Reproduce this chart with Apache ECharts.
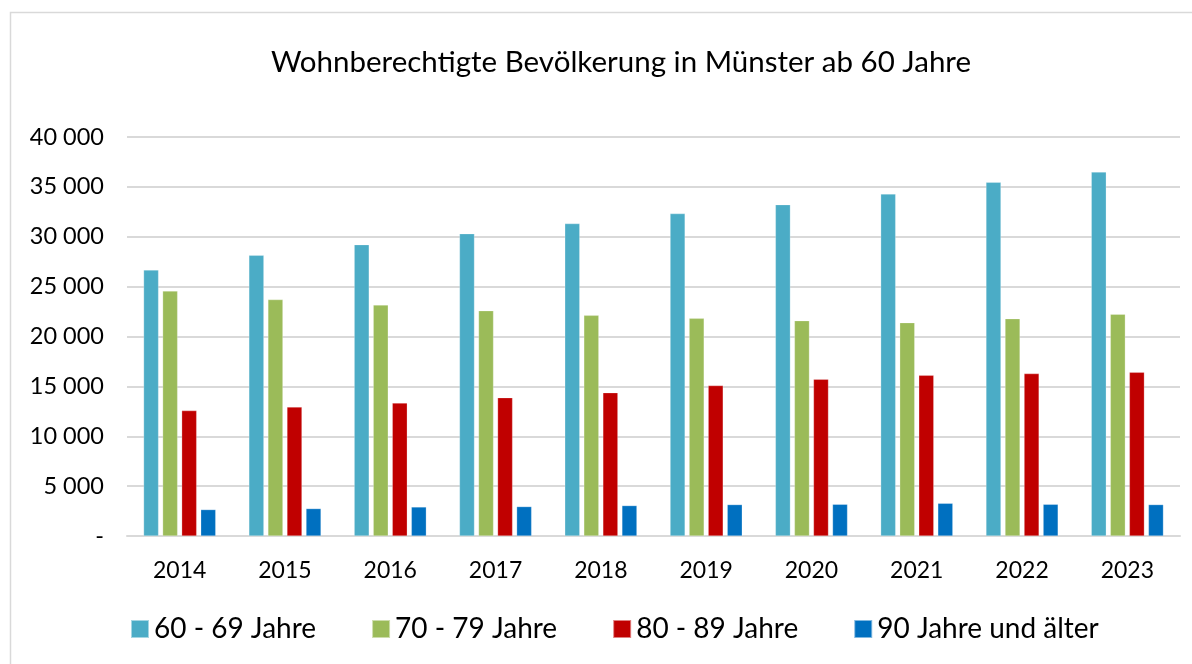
<!DOCTYPE html>
<html>
<head>
	<meta charset="utf-8" />
	<title>Wohnberechtigte Bevölkerung in Münster ab 60 Jahre</title>
	<script src="https://cdn.jsdelivr.net/npm/echarts@6/dist/echarts.min.js"></script>
	<style>
		html, body { margin: 0; padding: 0; background: #fff; }
	</style>
</head>
<body>
	<!-- chart container -->
	<div id="main" style="width: 1192px;height: 664px;"></div>
	<script type="text/javascript">

		// data
		var years = ['2014', '2015', '2016', '2017', '2018', '2019', '2020', '2021', '2022', '2023'];
		var seriesNames = ['60 - 69 Jahre', '70 - 79 Jahre', '80 - 89 Jahre', '90 Jahre und älter'];
		var age60 = [26670, 28140, 29210, 30310, 31320, 32320, 33220, 34290, 35460, 36490];
		var age70 = [24560, 23700, 23160, 22590, 22120, 21820, 21590, 21390, 21790, 22230];
		var age80 = [12570, 12930, 13330, 13870, 14370, 15080, 15710, 16110, 16280, 16410];
		var age90 = [2650, 2750, 2910, 2950, 3050, 3150, 3180, 3280, 3180, 3150];
		var colors = ['#4bacc6', '#9bbb59', '#c00000', '#0070c0'];

		var font = 'Lato, "Open Sans", sans-serif';

		var myChart = echarts.init(document.getElementById('main'));

		function barSeries(i, data) {
			return {
				name: seriesNames[i],
				type: 'bar',
				data: data,
				barWidth: 15,
				barGap: '27%',
				itemStyle: { color: colors[i], borderColor: 'rgba(255,255,255,0.5)', borderWidth: 0.5 }
			};
		}

		var option = {
			animation: false,
			backgroundColor: '#fff',
			color: colors,
			graphic: [{
				type: 'rect',
				shape: { x: 10.5, y: 12.5, width: 1200, height: 700 },
				style: { fill: 'none', stroke: '#d9d9d9', lineWidth: 1.5 },
				silent: true
			}],
			title: {
				text: 'Wohnberechtigte Bevölkerung in Münster ab 60 Jahre',
				left: 616,
				textAlign: 'center',
				top: 42,
				textStyle: { fontFamily: font, fontSize: 29.5, fontWeight: 'normal', color: '#000' }
			},
			legend: {
				data: seriesNames,
				bottom: 16,
				left: 125,
				itemWidth: 18,
				itemHeight: 18,
				itemGap: 55,
				icon: 'rect',
				textStyle: { fontFamily: font, fontSize: 28, color: '#000' }
			},
			grid: {
				left: 127,
				right: 12,
				top: 137,
				bottom: 128,
				containLabel: false
			},
			xAxis: {
				type: 'category',
				data: years,
				axisLine: { lineStyle: { color: '#d9d9d9', width: 2 } },
				axisTick: { show: false },
				axisLabel: { fontFamily: font, fontSize: 23, color: '#000', margin: 23 }
			},
			yAxis: {
				type: 'value',
				min: 0,
				max: 40000,
				interval: 5000,
				axisLine: { show: false },
				axisTick: { show: false },
				splitLine: { lineStyle: { color: '#d9d9d9', width: 2 } },
				axisLabel: {
					fontFamily: font,
					fontSize: 23.5,
					color: '#000',
					margin: 23,
					formatter: function (v) {
						if (v === 0) return '-';
						return String(v).replace(/\B(?=(\d{3})+(?!\d))/g, ' ');
					}
				}
			},
			series: [
				barSeries(0, age60),
				barSeries(1, age70),
				barSeries(2, age80),
				barSeries(3, age90)
			]
		};

		myChart.setOption(option);

	</script>
</body>
</html>
